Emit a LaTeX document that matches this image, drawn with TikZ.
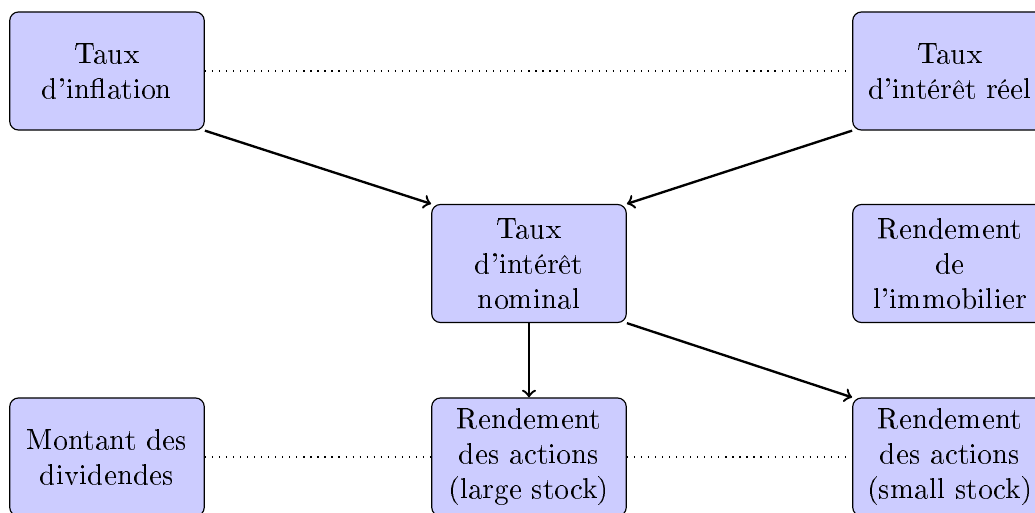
\documentclass[tikz,border=0pt]{standalone}
\usepackage[T1]{fontenc}
\begin{document}
\begin{tikzpicture}[x=0.3413pt, y=-0.3413pt,
  factor/.style={draw=black, fill=blue!20, rounded corners=3pt,
    text width=2.1cm, align=center, minimum width=66.2pt,
    minimum height=40.3pt, inner sep=3.33pt},
  influence/.style={->, thick},
  link/.style={dotted, thin}]
  \clip (0,0) rectangle (1035,512);
  \useasboundingbox (0,0) rectangle (1035,512);

  % top row
  \node[factor] (infl) at (107,71) {Taux\\ d'inflation};
  \node[factor] (reel) at (950,71) {Taux\\ d'intérêt réel};
  % middle row
  \node[factor] (nom) at (529,263.5) {Taux\\ d'intérêt\\ nominal};
  \node[factor] (immo) at (950,263.5) {Rendement\\ de\\ l'immobilier};
  % bottom row
  \node[factor] (div) at (107,457) {Montant des\\ dividendes};
  \node[factor] (large) at (529,457) {Rendement\\ des actions\\ (large stock)};
  \node[factor] (small) at (950,457) {Rendement\\ des actions\\ (small stock)};

  % dotted links
  \draw[link] (infl) -- (reel);
  \draw[link] (div) -- (large);
  \draw[link] (large) -- (small);

  % causal arrows
  \draw[influence] (infl.south east) -- (nom.north west);
  \draw[influence] (reel.south west) -- (nom.north east);
  \draw[influence] (nom) -- (large);
  \draw[influence] (nom.south east) -- (small.north west);
\end{tikzpicture}
\end{document}
